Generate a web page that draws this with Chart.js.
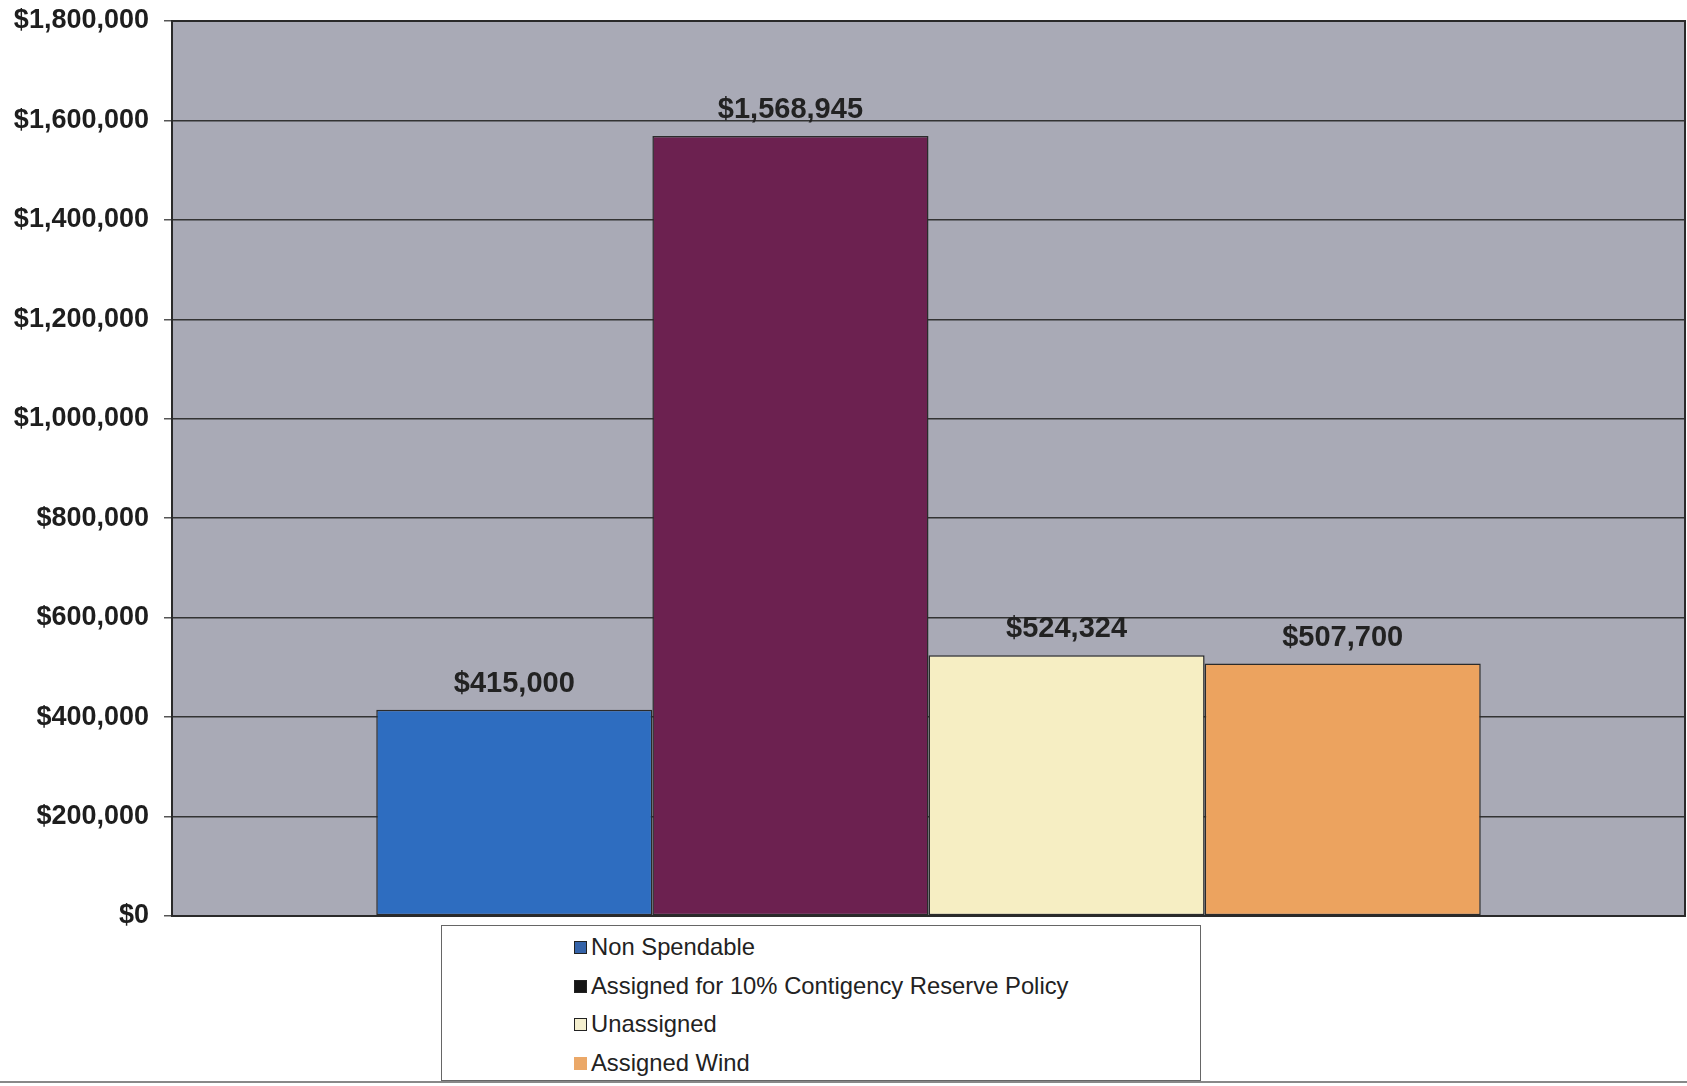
<!DOCTYPE html>
<html>
<head>
<title>Fund Balance Chart</title>
<style>
  body { margin: 0; background: #fff; }
  #wrap { position: relative; width: 1687px; height: 1086px; }
  #legend {
    position: absolute; left: 441px; top: 925px; width: 760px; height: 156px;
    border: 1px solid #666; background: #fff; box-sizing: border-box;
    font-family: "Liberation Sans", Arial, sans-serif; font-size: 23.8px; color: #222;
  }
  #legend div { position: absolute; left: 132px; height: 26px; line-height: 26px; }
  #legend span.box { display: inline-block; width: 13px; height: 13px; margin-right: 4px; vertical-align: 1px; box-sizing: border-box; }
  #baseline { position: absolute; left: 0; top: 1081px; width: 1687px; height: 0; border-top: 2px solid #888; }
</style>
</head>
<body>
<div id="wrap">
  <canvas id="myChart" width="1687" height="1086"></canvas>
  <div id="legend"></div>
  <div id="baseline"></div>
</div>
<script src="https://cdn.jsdelivr.net/npm/chart.js@4.4.0/dist/chart.umd.min.js"></script>
<script type="text/javascript">
// data
var categories = [''];
var seriesNames = ['Non Spendable', 'Assigned for 10% Contigency Reserve Policy', 'Unassigned', 'Assigned Wind'];
var seriesValues = [415000, 1568945, 524324, 507700];
var barColors = ['#2e6dc0', '#6c2150', '#f6eec3', '#eca35f'];
var legendColors = ['#3563a8', '#151515', '#f4efcf', '#eba868'];
var yTicks = [0, 200000, 400000, 600000, 800000, 1000000, 1200000, 1400000, 1600000, 1800000];

function money(v) {
  return '$' + v.toLocaleString('en-US');
}

var datasets = [];
for (var i = 0; i < seriesNames.length; i++) {
  datasets.push({
    label: seriesNames[i],
    data: [seriesValues[i]],
    backgroundColor: barColors[i],
    borderColor: '#2b2b2b',
    borderWidth: 1.5,
    borderSkipped: false
  });
}

// gray plot background + frame
var plotBg = {
  id: 'plotBg',
  beforeDraw: function(chart) {
    var a = chart.chartArea, c = chart.ctx;
    c.save();
    c.fillStyle = '#a9aab6';
    c.fillRect(a.left, a.top, a.right - a.left, a.bottom - a.top);
    c.restore();
  },
  afterDraw: function(chart) {
    var a = chart.chartArea, c = chart.ctx;
    c.save();
    c.strokeStyle = '#2a2a2a';
    c.lineWidth = 2;
    c.strokeRect(a.left, a.top, a.right - a.left, a.bottom - a.top);
    c.restore();
  }
};

// value labels above bars
var valueLabels = {
  id: 'valueLabels',
  afterDatasetsDraw: function(chart) {
    var c = chart.ctx;
    c.save();
    c.font = 'bold 29px "Liberation Sans", Arial, sans-serif';
    c.fillStyle = '#222';
    c.textAlign = 'center';
    c.textBaseline = 'alphabetic';
    chart.data.datasets.forEach(function(ds, i) {
      var bar = chart.getDatasetMeta(i).data[0];
      c.fillText(money(ds.data[0]), bar.x, bar.y - 18);
    });
    c.restore();
  }
};

var ctx = document.getElementById('myChart').getContext('2d');
var chart = new Chart(ctx, {
  type: 'bar',
  data: { labels: categories, datasets: datasets },
  options: {
    responsive: false,
    animation: false,
    layout: { padding: { left: 0, top: 21, right: 2, bottom: 170 } },
    plugins: { legend: { display: false }, tooltip: { enabled: false } },
    datasets: { bar: { barPercentage: 1, categoryPercentage: 0.73 } },
    scales: {
      x: { display: false },
      y: {
        min: 0, max: 1800000,
        afterFit: function(scale) {
          scale.width = 172;
          scale.paddingTop = 0;
          scale.paddingBottom = 0;
        },
        afterBuildTicks: function(scale) {
          scale.ticks = yTicks.map(function(v) { return { value: v }; });
        },
        grid: { color: '#333', lineWidth: 1.5, tickLength: 8, tickColor: '#555' },
        border: { color: '#2a2a2a', width: 2 },
        ticks: {
          padding: 15,
          color: '#1e1e1e',
          font: { family: '"Liberation Sans", Arial, sans-serif', size: 27, weight: 'bold' },
          callback: function(v) { return money(v); }
        }
      }
    }
  },
  plugins: [plotBg, valueLabels]
});

// legend list
var lg = document.getElementById('legend');
for (var j = 0; j < seriesNames.length; j++) {
  var row = document.createElement('div');
  row.style.top = (8 + j * 38.7) + 'px';
  var box = document.createElement('span');
  box.className = 'box';
  box.style.background = legendColors[j];
  box.style.border = j === 3 ? 'none' : '1.5px solid #222';
  row.appendChild(box);
  row.appendChild(document.createTextNode(seriesNames[j]));
  lg.appendChild(row);
}
</script>
</body>
</html>
